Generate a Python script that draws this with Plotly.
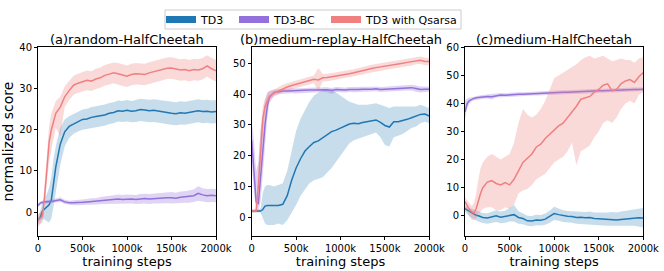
import plotly.graph_objects as go

# training steps (thousands)
STEPS = [0, 25, 50, 75, 100, 125, 150, 175, 200,
         250, 300, 350, 400, 450, 500, 550, 600, 650, 700,
         750, 800, 850, 900, 950, 1000, 1050, 1100, 1150, 1200,
         1250, 1300, 1350, 1400, 1450, 1500, 1550, 1600, 1650, 1700,
         1750, 1800, 1850, 1900, 1950, 2000]
X_TICKS = [0, 500, 1000, 1500, 2000]
X_TICKTEXT = ["0", "500k", "1000k", "1500k", "2000k"]

TITLES = ["(a)random-HalfCheetah", "(b)medium-replay-HalfCheetah", "(c)medium-HalfCheetah"]
SERIES = ["TD3", "TD3-BC", "TD3 with Qsarsa"]

# ---- (a) random ----
A_TD3_MEAN = [-2.0,-1.2,0.3,0.8,1.2,1.8,3.0,7.5,11.0, 16.5,19.5,20.8,21.4,22.0,22.5,22.6,23.0,23.2,23.4,23.6,24.0,24.2,24.6,24.5,24.7,24.5,24.6,24.9,24.8,24.6,24.7,24.5,24.4,24.2,24.0,23.9,24.1,24.0,24.2,24.4,24.6,24.4,24.5,24.3,24.4]
A_TD3_LO = [-3.0,-2.6,-1.8,-1.8,-2.2,-2.5,-1.5,1.5,4.0, 11.5,16.0,18.0,19.0,19.6,20.0,20.1,20.4,20.6,20.8,21.0,21.4,21.6,22.0,21.9,22.0,21.8,21.9,22.1,22.0,21.8,21.9,21.7,21.6,21.4,21.2,21.1,21.3,21.2,21.4,21.6,21.8,21.6,21.7,21.5,21.6]
A_TD3_HI = [-1.0,0.2,2.5,3.5,4.5,6.0,8.5,13.0,16.0, 20.5,22.5,23.3,23.8,24.4,24.9,25.1,25.5,25.7,25.9,26.1,26.5,26.7,27.1,27.0,27.2,27.0,27.2,27.5,27.4,27.3,27.4,27.2,27.1,27.0,26.8,26.7,26.9,26.8,27.0,27.2,27.4,27.2,27.3,27.1,27.2]
A_BC_MEAN = [1.6,2.2,2.4,2.5,2.5,2.6,2.6,2.7,2.8, 3.0,2.5,2.3,2.3,2.3,2.4,2.5,2.6,2.6,2.8,2.9,3.0,3.1,3.2,3.1,3.2,3.2,3.1,3.2,3.3,3.2,3.3,3.4,3.4,3.5,3.5,3.4,3.6,3.7,3.8,4.0,4.6,4.2,4.0,4.1,4.0]
A_BC_LO = [1.2,1.8,2.0,2.1,2.1,2.2,2.2,2.3,2.4, 2.5,2.0,1.8,1.7,1.7,1.7,1.8,1.8,1.8,1.9,2.0,2.0,2.1,2.1,2.0,2.1,2.1,2.0,2.0,2.1,2.0,2.1,2.1,2.1,2.2,2.1,2.1,2.2,2.3,2.3,2.5,2.8,2.6,2.4,2.5,2.4]
A_BC_HI = [2.0,2.6,2.8,2.9,2.9,3.0,3.0,3.2,3.3, 3.6,3.0,2.8,2.9,2.9,3.1,3.2,3.4,3.4,3.7,3.8,4.0,4.1,4.3,4.2,4.3,4.3,4.2,4.4,4.5,4.4,4.5,4.7,4.7,4.8,4.9,4.7,5.0,5.1,5.3,5.5,6.3,5.8,5.6,5.7,5.6]
A_QS_MEAN = [-2.0,-1.6,-1.0,4.0,11.0,17.0,20.0,22.0,24.0, 25.5,28.0,29.5,30.8,31.3,31.6,32.0,31.8,32.3,32.6,33.2,33.5,33.8,33.6,33.3,33.0,33.4,33.6,33.5,33.4,33.8,34.1,34.3,34.6,34.9,35.0,34.7,34.5,34.6,34.3,34.6,34.5,34.8,35.5,34.8,34.3]
A_QS_LO = [-3.5,-3.0,-2.5,1.0,7.0,12.0,15.0,18.0,20.5, 18.5,25.5,27.2,28.5,29.0,29.3,29.6,29.4,29.9,30.2,30.7,31.0,31.3,31.0,30.6,30.4,30.8,31.0,30.9,30.8,31.2,31.5,31.7,32.0,32.3,32.4,32.1,31.9,32.0,31.7,32.0,31.9,32.2,32.9,32.2,31.7]
A_QS_HI = [-0.5,0.0,0.5,7.0,15.0,21.0,24.0,25.5,27.0, 28.0,30.5,31.8,33.1,33.6,34.0,34.4,34.2,34.8,35.1,35.7,36.0,36.3,36.2,35.9,35.6,36.0,36.2,36.1,36.0,36.4,36.7,36.9,37.2,37.5,37.6,37.3,37.1,37.2,36.9,37.2,37.1,37.4,38.1,37.4,36.9]

# ---- (b) medium-replay ----
B_TD3_MEAN = [2.0,2.0,2.0,2.0,2.0,2.5,3.6,3.8,3.8, 3.6,3.8,4.2,7.0,12.0,16.0,19.0,21.5,23.0,24.3,24.8,25.8,26.8,27.8,28.3,29.0,29.8,30.3,30.5,30.4,30.8,31.0,31.4,31.6,30.8,29.8,29.3,31.0,31.0,31.3,31.8,32.3,32.8,33.4,33.5,32.9]
B_TD3_LO = [1.5,1.5,1.5,1.5,1.5,-0.5,-2.0,-2.5,-2.6, -2.5,-2.0,-2.5,-1.0,1.5,4.0,7.0,9.0,11.0,12.0,12.5,13.0,14.5,16.0,18.0,20.0,22.0,24.0,25.0,25.5,26.0,26.5,27.0,27.5,26.0,23.5,23.0,26.0,26.5,27.0,28.0,29.0,29.5,30.5,31.0,30.5]
B_TD3_HI = [2.5,2.5,2.5,2.5,2.8,8.0,10.0,10.5,10.5, 10.0,10.5,11.0,15.0,22.0,28.0,32.0,35.0,37.5,39.5,40.5,41.2,41.5,41.5,40.5,39.5,38.5,37.5,37.0,36.5,36.5,36.5,36.8,37.0,36.5,36.0,35.5,36.0,36.0,36.0,36.0,36.0,36.0,36.5,36.0,35.5]
B_BC_MEAN = [25.0,15.0,5.0,4.5,13.0,22.0,30.0,36.0,39.0, 40.5,40.8,41.0,41.0,41.1,41.0,41.2,41.2,41.3,41.3,41.4,41.5,41.4,41.2,41.5,41.4,41.3,41.5,41.4,41.5,41.6,41.5,41.6,41.7,41.5,41.6,41.7,41.8,41.8,41.9,42.0,42.1,41.8,41.5,41.6,41.6]
B_BC_LO = [18.0,8.0,2.0,2.0,5.0,14.0,24.0,32.0,37.0, 39.5,40.0,40.2,40.2,40.3,40.2,40.4,40.4,40.5,40.5,40.6,40.7,40.6,40.0,40.7,40.6,40.5,40.7,40.6,40.7,40.8,40.7,40.8,40.9,40.7,40.8,40.9,41.0,41.0,41.1,41.2,41.2,40.8,40.5,40.7,40.8]
B_BC_HI = [31.0,25.0,15.0,18.0,28.0,33.0,38.0,40.5,41.0, 41.5,41.6,41.8,41.8,41.9,41.8,42.0,42.0,42.1,42.1,42.2,42.3,42.2,42.0,42.3,42.2,42.1,42.3,42.2,42.3,42.4,42.3,42.4,42.5,42.3,42.4,42.5,42.6,42.6,42.7,42.8,43.0,42.8,42.5,42.5,42.4]
B_QS_MEAN = [2.0,2.0,2.0,10.0,22.0,32.0,36.0,38.0,39.3, 40.3,41.0,41.8,42.3,42.8,43.2,43.6,44.0,44.3,44.8,44.6,45.3,45.4,45.6,45.9,46.2,46.4,46.6,46.9,47.3,47.6,48.0,48.3,48.6,48.8,49.0,49.3,49.6,49.8,50.0,50.3,50.5,50.9,51.0,50.6,50.6]
B_QS_LO = [1.5,1.5,1.5,5.0,15.0,27.0,33.0,36.0,38.0, 39.2,39.8,40.6,41.1,41.6,42.0,42.4,42.8,43.1,43.6,41.0,44.1,44.2,44.4,44.7,45.0,45.2,45.4,45.7,46.1,46.4,46.8,47.1,47.4,47.6,47.8,48.1,48.4,48.6,48.8,49.1,49.3,49.7,49.8,49.4,49.4]
B_QS_HI = [2.5,2.5,3.0,16.0,29.0,36.0,38.5,40.0,41.0, 41.4,42.2,43.0,43.5,44.0,44.4,44.8,45.2,45.5,46.0,48.5,46.5,46.6,46.8,47.1,47.4,47.6,47.8,48.1,48.5,48.8,49.2,49.5,49.8,50.0,50.2,50.5,50.8,51.0,51.2,51.5,51.7,52.1,52.2,51.8,51.8]

# ---- (c) medium ----
C_TD3_MEAN = [2.5,2.0,1.5,1.0,0.6,0.2,0.0,-0.4,-0.6, -0.8,-0.4,0.0,-0.5,-0.2,0.3,0.4,-0.6,-1.0,-1.8,-1.9,-1.5,-1.6,-1.2,-0.3,0.8,0.4,0.0,-0.2,-0.3,-0.6,-0.5,-0.7,-0.6,-1.0,-1.1,-1.2,-1.3,-1.3,-1.5,-1.3,-1.1,-1.0,-0.9,-0.7,-0.8]
C_TD3_LO = [1.5,0.5,-0.3,-0.8,-1.3,-1.7,-2.0,-2.4,-2.6, -2.8,-2.5,-2.2,-2.7,-2.5,-2.0,-2.0,-2.8,-3.0,-3.6,-3.7,-3.4,-3.5,-3.2,-2.5,-1.5,-1.8,-2.2,-2.4,-2.5,-2.8,-2.8,-3.0,-3.0,-3.3,-3.4,-3.5,-3.6,-3.6,-3.8,-3.7,-3.6,-3.6,-3.6,-3.8,-4.2]
C_TD3_HI = [3.5,3.2,2.8,2.5,2.2,1.8,1.6,1.2,1.0, 0.9,1.5,2.0,1.5,1.8,2.8,3.8,1.6,0.8,0.0,-0.1,0.4,0.3,0.8,1.8,3.2,2.6,2.0,1.7,1.6,1.4,1.5,1.3,1.5,1.2,1.2,1.1,1.2,1.3,1.2,1.5,1.8,2.0,2.2,2.5,2.8]
C_BC_MEAN = [37.0,40.0,41.0,41.5,41.8,42.0,42.1,42.2,42.3, 42.5,42.4,42.8,43.0,42.9,43.1,43.2,43.3,43.3,43.4,43.5,43.5,43.6,43.7,43.7,43.8,43.9,44.0,44.0,44.1,44.2,44.2,44.3,44.4,44.4,44.5,44.5,44.6,44.7,44.7,44.8,44.9,44.9,45.0,45.0,45.1]
C_BC_LO = [34.5,38.5,40.0,40.8,41.1,41.3,41.4,41.5,41.6, 41.8,41.4,42.1,42.3,42.2,42.4,42.5,42.6,42.6,42.7,42.8,42.8,42.9,43.0,43.0,43.1,43.2,43.3,43.3,43.4,43.5,43.5,43.6,43.7,43.7,43.8,43.8,43.9,44.0,44.0,44.1,44.2,44.2,44.3,44.3,44.4]
C_BC_HI = [41.0,41.8,42.0,42.2,42.5,42.7,42.8,42.9,43.0, 43.2,43.2,43.5,43.7,43.6,43.8,43.9,44.0,44.0,44.1,44.2,44.2,44.3,44.4,44.4,44.5,44.6,44.7,44.7,44.8,44.9,44.9,45.0,45.1,45.1,45.2,45.2,45.3,45.4,45.4,45.5,45.6,45.6,45.7,45.7,45.8]
C_QS_MEAN = [5.0,3.5,2.2,1.5,1.0,2.5,5.5,8.0,10.0, 12.0,12.5,11.5,11.0,11.8,11.0,13.0,16.0,19.0,20.5,22.0,24.5,25.5,27.5,29.0,30.5,32.0,33.0,35.0,37.0,39.0,41.5,42.0,42.5,44.0,45.0,46.5,47.0,44.5,45.0,47.0,48.0,48.5,47.5,49.5,51.0]
C_QS_LO = [3.0,1.5,0.0,-1.5,-1.5,-1.0,0.5,1.5,2.5, 3.0,3.0,2.0,2.0,3.0,2.5,4.0,8.0,9.0,9.5,11.0,13.0,14.0,15.0,17.0,19.0,20.0,21.0,23.0,26.0,18.0,23.0,24.0,25.0,28.0,30.0,33.0,34.0,33.0,35.0,38.0,40.0,41.0,40.0,43.0,44.0]
C_QS_HI = [6.5,5.5,4.5,3.5,4.5,8.0,13.0,17.0,19.0, 21.0,22.0,21.0,20.0,21.0,22.0,26.0,33.0,38.0,36.0,35.0,36.0,38.0,41.0,45.0,49.0,50.0,51.0,52.0,53.0,54.0,55.5,56.5,57.0,56.0,56.5,57.0,56.0,55.0,55.5,56.0,55.5,55.5,54.5,56.0,56.5]

Y_RANGES = [[-5.7, 40], [-6.0, 55.2], [-7.1, 60]]
Y_TICKS = [[0, 10, 20, 30, 40], [0, 10, 20, 30, 40, 50], [0, 10, 20, 30, 40, 50, 60]]

LINE_COLORS = ["#1f77b4", "#9370DB", "#F08080"]
FILL_COLORS = ["rgba(31,119,180,0.25)", "rgba(147,112,219,0.3)", "rgba(240,128,128,0.3)"]

PANELS = [
    [(A_TD3_MEAN, A_TD3_LO, A_TD3_HI), (A_BC_MEAN, A_BC_LO, A_BC_HI), (A_QS_MEAN, A_QS_LO, A_QS_HI)],
    [(B_TD3_MEAN, B_TD3_LO, B_TD3_HI), (B_BC_MEAN, B_BC_LO, B_BC_HI), (B_QS_MEAN, B_QS_LO, B_QS_HI)],
    [(C_TD3_MEAN, C_TD3_LO, C_TD3_HI), (C_BC_MEAN, C_BC_LO, C_BC_HI), (C_QS_MEAN, C_QS_LO, C_QS_HI)],
]

W, H = 664, 271
FONT = "DejaVu Sans"
X_DOMAINS = [[38 / W, 216 / W], [251.7 / W, 429.3 / W], [465 / W, 643.3 / W]]
Y_DOMAIN = [1 - 235.7 / H, 1 - 47.3 / H]
LEGEND_X = [161 / W, 234 / W, 326 / W]
LEGEND_KEYS = ["legend", "legend2", "legend3"]

fig = go.Figure()

for p, series in enumerate(PANELS):
    xa = "x" if p == 0 else f"x{p+1}"
    ya = "y" if p == 0 else f"y{p+1}"
    for s, (mean, lo, hi) in enumerate(series):
        fig.add_trace(go.Scatter(
            x=STEPS + STEPS[::-1], y=hi + lo[::-1], fill="toself",
            fillcolor=FILL_COLORS[s], line=dict(width=0), mode="lines",
            hoverinfo="skip", showlegend=False, xaxis=xa, yaxis=ya))
        fig.add_trace(go.Scatter(
            x=STEPS, y=mean, mode="lines", line=dict(color=LINE_COLORS[s], width=1.5),
            name=SERIES[s], showlegend=False, xaxis=xa, yaxis=ya))

# legend entries (thick patches), one legend per entry to match spacing
for s, name in enumerate(SERIES):
    fig.add_trace(go.Scatter(x=[None], y=[None], mode="lines",
                             line=dict(color=LINE_COLORS[s], width=7), name=name,
                             showlegend=True, legend=LEGEND_KEYS[s]))

axis_common = dict(showline=True, mirror=True, linecolor="black", linewidth=1,
                   ticks="outside", ticklen=3, tickwidth=1, tickcolor="black",
                   showgrid=False, zeroline=False, automargin=False,
                   tickfont=dict(family=FONT, size=10, color="black"))

layout = dict(
    width=W, height=H, margin=dict(l=0, r=0, t=0, b=0, autoexpand=False),
    paper_bgcolor="white", plot_bgcolor="white",
    font=dict(family=FONT, color="black"),
    showlegend=True,
)
for k, lx in zip(LEGEND_KEYS, LEGEND_X):
    layout[k] = dict(orientation="h", x=lx, xanchor="left", y=1 - 19.5 / H, yanchor="middle",
                     borderwidth=0, bgcolor="rgba(0,0,0,0)",
                     font=dict(family=FONT, size=11, color="black"), itemwidth=30)

# legend frame
layout["shapes"] = [dict(type="rect", xref="paper", yref="paper",
                         x0=165 / W, x1=461 / W, y0=1 - 29 / H, y1=1 - 10 / H,
                         line=dict(color="#cccccc", width=1), fillcolor="white", layer="above")]

annotations = []
for p in range(3):
    xk = "xaxis" if p == 0 else f"xaxis{p+1}"
    yk = "yaxis" if p == 0 else f"yaxis{p+1}"
    ya = "y" if p == 0 else f"y{p+1}"
    xa = "x" if p == 0 else f"x{p+1}"
    layout[xk] = dict(axis_common, domain=X_DOMAINS[p], anchor=ya, range=[0, 2000],
                      tickvals=X_TICKS, ticktext=X_TICKTEXT,
                      title=dict(text="training steps", font=dict(family=FONT, size=13), standoff=1))
    ydict = dict(axis_common, domain=Y_DOMAIN, anchor=xa, range=Y_RANGES[p], tickvals=Y_TICKS[p])
    if p == 0:
        ydict["title"] = dict(text="normalized score", font=dict(family=FONT, size=14), standoff=5)
    layout[yk] = ydict
    annotations.append(dict(text=TITLES[p], x=sum(X_DOMAINS[p]) / 2, y=1 - 39 / H,
                            xref="paper", yref="paper", xanchor="center", yanchor="middle",
                            showarrow=False, font=dict(family=FONT, size=13, color="black")))

layout["annotations"] = annotations
fig.update_layout(**layout)
fig.write_html("out.html", config={"displayModeBar": False},
               post_script="document.body.style.margin='0';")
